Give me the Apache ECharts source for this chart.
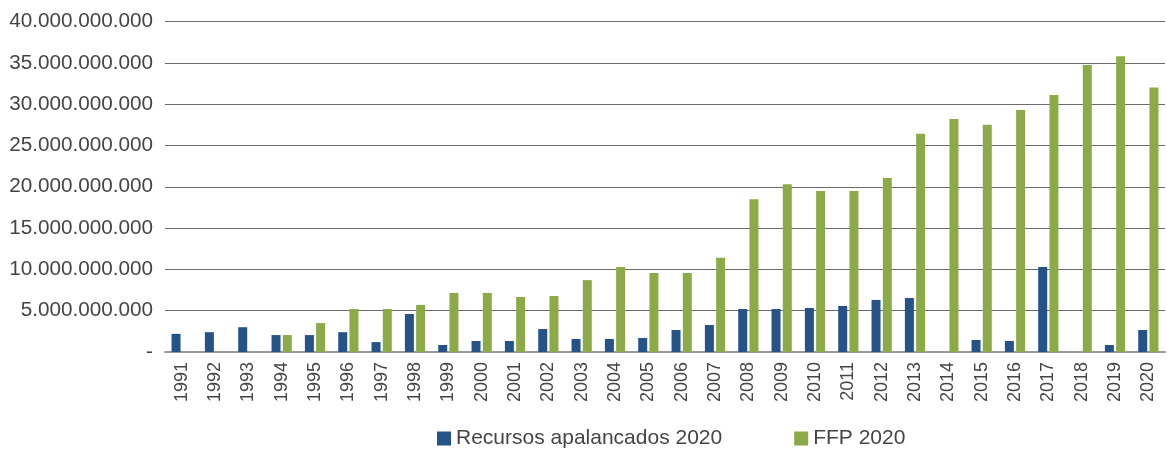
<!DOCTYPE html>
<html>
<head>
<meta charset="utf-8">
<script src="https://cdn.jsdelivr.net/npm/echarts@6/dist/echarts.min.js"></script>
<style>
  html, body { margin: 0; padding: 0; background: #fff; }
  #chart { width: 1167px; height: 450px; }
</style>
</head>
<body>
<div id="chart"></div>
<script>
// años
const years = ['1991','1992','1993','1994','1995','1996','1997','1998','1999','2000',
  '2001','2002','2003','2004','2005','2006','2007','2008','2009','2010',
  '2011','2012','2013','2014','2015','2016','2017','2018','2019','2020']

// valores en miles de millones (se multiplican abajo)
const recursos = [2.2, 2.4, 3.0, 2.05, 2.05, 2.4, 1.2, 4.6, 0.85, 1.33,
  1.33, 2.78, 1.57, 1.57, 1.7, 2.66, 3.27, 5.2, 5.2, 5.33,
  5.57, 6.3, 6.54, null, 1.45, 1.33, 10.3, null, 0.85, 2.66]
const ffp = [null, null, null, 2.05, 3.5, 5.2, 5.2, 5.7, 7.15, 7.15,
  6.66, 6.78, 8.7, 10.3, 9.56, 9.56, 11.4, 18.5, 20.3, 19.5,
  19.5, 21.07, 26.4, 28.2, 27.5, 29.3, 31.1, 34.75, 35.8, 32.0]

const toUnits = arr => arr.map(v => v == null ? null : Math.round(v * 1e9))

const fmt = v => {
  if (v === 0) return '-'
  return String(Math.round(v)).replace(/\B(?=(\d{3})+(?!\d))/g, '.')
}

const font = "'Liberation Sans', Arial, sans-serif"
const myChart = echarts.init(document.getElementById('chart'))

const option = {
  animation: false,
  textStyle: { fontFamily: font },
  grid: { left: 165, right: 2, top: 21.5, bottom: 98 },
  legend: {
    left: 432, top: 423,
    itemWidth: 14, itemHeight: 14, itemGap: 72,
    icon: 'rect',
    textStyle: { fontSize: 21, color: '#454545', fontFamily: font },
    data: ['Recursos apalancados 2020', 'FFP 2020']
  },
  xAxis: {
    type: 'category',
    data: years,
    axisTick: { show: false },
    axisLine: { lineStyle: { color: '#9a9a9a', width: 2 } },
    axisLabel: { rotate: 90, fontSize: 18, color: '#454545', margin: 10, interval: 0, fontFamily: font }
  },
  yAxis: {
    type: 'value',
    min: 0, max: 40e9, interval: 5e9,
    axisLine: { show: false },
    axisTick: { show: false },
    splitLine: { lineStyle: { color: '#6b6b6b', width: 1 } },
    axisLabel: { fontSize: 20.7, color: '#454545', margin: 12, formatter: fmt, fontFamily: font }
  },
  series: [
    {
      name: 'Recursos apalancados 2020',
      type: 'bar',
      data: toUnits(recursos),
      barWidth: 9,
      barGap: '25%',
      itemStyle: { color: '#255387' }
    },
    {
      name: 'FFP 2020',
      type: 'bar',
      data: toUnits(ffp),
      barWidth: 9,
      itemStyle: { color: '#8cab48' }
    }
  ]
}

myChart.setOption(option)
window.onresize = () => { myChart.resize() }
</script>
</body>
</html>
